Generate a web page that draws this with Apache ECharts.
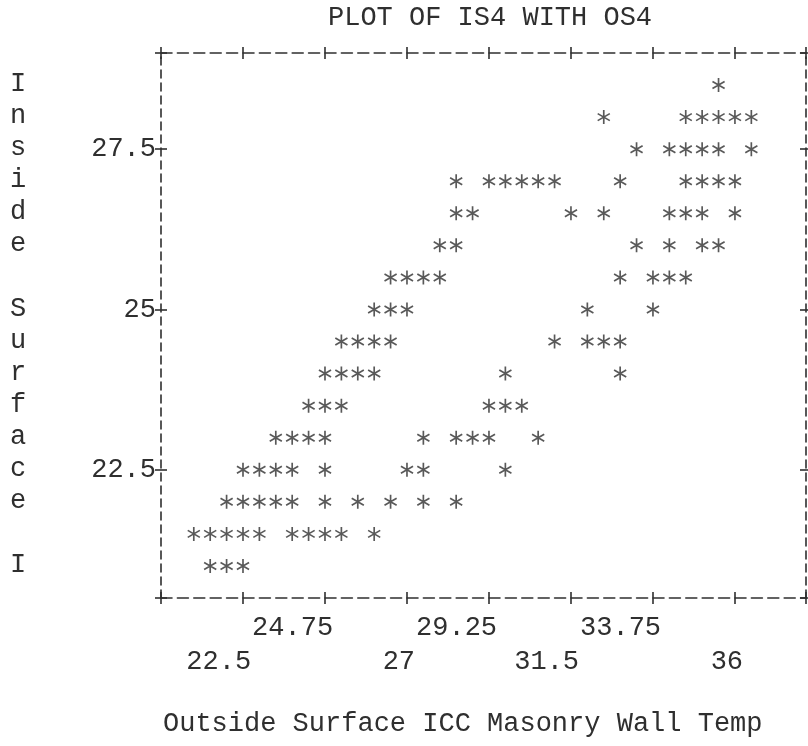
<!DOCTYPE html>
<html>
<head>
<meta charset="utf-8">
<script src="https://cdn.jsdelivr.net/npm/echarts@6/dist/echarts.min.js"></script>
<style>
html,body{margin:0;padding:0;background:#ffffff;}
#chart{width:808px;height:746px;}
</style>
</head>
<body>
<div id="chart"></div>
<script>
// ---------- texts ----------
const plotTitle = 'PLOT OF IS4 WITH OS4';
const xTitle = 'Outside Surface ICC Masonry Wall Temp';
const yTitle = 'Inside Surface I';

// ---------- axes ----------
const xRange = [20.25, 37.95];
const yRange = [20.5, 29];
const xLabelsUpper = [24.75, 29.25, 33.75];
const xLabelsLower = [22.5, 27, 31.5, 36];
const xTicks = [20.25, 22.5, 24.75, 27, 29.25, 31.5, 33.75, 36, 37.95];
const yLabels = [22.5, 25, 27.5];
const yTicks = [20.5, 22.5, 25, 27.5, 29];

// ---------- data: IS4 row value and OS4 values printed in that row ----------
const is4Rows = [28.5, 28, 27.5, 27, 26.5, 26, 25.5, 25, 24.5, 24, 23.5, 23, 22.5, 22, 21.5, 21];
const os4_285 = [35.55];
const os4_280 = [32.4, 34.65, 35.1, 35.55, 36.0, 36.45];
const os4_275 = [33.3, 34.2, 34.65, 35.1, 35.55, 36.45];
const os4_270 = [28.35, 29.25, 29.7, 30.15, 30.6, 31.05, 32.85, 34.65, 35.1, 35.55, 36.0];
const os4_265 = [28.35, 28.8, 31.5, 32.4, 34.2, 34.65, 35.1, 36.0];
const os4_260 = [27.9, 28.35, 33.3, 34.2, 35.1, 35.55];
const os4_255 = [26.55, 27.0, 27.45, 27.9, 32.85, 33.75, 34.2, 34.65];
const os4_250 = [26.1, 26.55, 27.0, 31.95, 33.75];
const os4_245 = [25.2, 25.65, 26.1, 26.55, 31.05, 31.95, 32.4, 32.85];
const os4_240 = [24.75, 25.2, 25.65, 26.1, 29.7, 32.85];
const os4_235 = [24.3, 24.75, 25.2, 29.25, 29.7, 30.15];
const os4_230 = [23.4, 23.85, 24.3, 24.75, 27.45, 28.35, 28.8, 29.25, 30.6];
const os4_225 = [22.5, 22.95, 23.4, 23.85, 24.75, 27.0, 27.45, 29.7];
const os4_220 = [22.05, 22.5, 22.95, 23.4, 23.85, 24.75, 25.65, 26.55, 27.45, 28.35];
const os4_215 = [21.15, 21.6, 22.05, 22.5, 22.95, 23.85, 24.3, 24.75, 25.2, 26.1];
const os4_210 = [21.6, 22.05, 22.5];
const os4Rows = [os4_285, os4_280, os4_275, os4_270, os4_265, os4_260, os4_255, os4_250,
                 os4_245, os4_240, os4_235, os4_230, os4_225, os4_220, os4_215, os4_210];

const points = [];
is4Rows.forEach((y, i) => os4Rows[i].forEach(x => points.push([x, y])));

// ---------- style ----------
const FONT = "'Liberation Mono', 'Courier New', monospace";
const INK = '#2f2f2f';
const FS = 27;
const ASTERISK = 'path://M44,0L56,0L56,100L44,100Z' +
  'M3.7,30.2L9.7,19.8L96.3,69.8L90.3,80.2Z' +
  'M9.7,80.2L3.7,69.8L90.3,19.8L96.3,30.2Z';

function padLabel(v) {
  const s = String(v);
  return s + ' '.repeat(s.length - 1);
}

function xAxisDef(position, withLine, inside, labels, margin) {
  return {
    type: 'value', position: position, min: xRange[0], max: xRange[1],
    axisLine: { show: withLine, onZero: false, lineStyle: { color: INK, width: 1.6, type: [11, 5.4] } },
    axisTick: { show: true, inside: inside, length: 6, customValues: xTicks, lineStyle: { color: INK, width: 1.6 } },
    axisLabel: labels ? {
      show: true, customValues: labels, margin: margin, formatter: padLabel,
      fontFamily: FONT, fontSize: FS, color: INK, lineHeight: 30
    } : { show: false },
    splitLine: { show: false }
  };
}
function yAxisDef(position, withLine, inside, labels) {
  return {
    type: 'value', position: position, min: yRange[0], max: yRange[1],
    axisLine: { show: withLine, onZero: false, lineStyle: { color: INK, width: 1.6, type: [8, 5] } },
    axisTick: { show: true, inside: inside, length: 6, customValues: yTicks, lineStyle: { color: INK, width: 1.6 } },
    axisLabel: labels ? {
      show: true, customValues: labels, margin: 5,
      fontFamily: FONT, fontSize: FS, color: INK
    } : { show: false },
    splitLine: { show: false }
  };
}

const chart = echarts.init(document.getElementById('chart'), null, { renderer: 'canvas' });
chart.setOption({
  backgroundColor: '#ffffff',
  animation: false,
  title: [
    { text: plotTitle, left: 328, top: 3, padding: 0,
      textStyle: { fontFamily: FONT, fontSize: FS, fontWeight: 'normal', color: INK, lineHeight: 30 } },
    { text: xTitle, left: 163, top: 709, padding: 0,
      textStyle: { fontFamily: FONT, fontSize: FS, fontWeight: 'normal', color: INK, lineHeight: 30 } },
    { text: yTitle.split('').join('\n'), left: 10, top: 68, padding: 0,
      textStyle: { fontFamily: FONT, fontSize: FS, fontWeight: 'normal', color: INK, lineHeight: 32.06 } }
  ],
  grid: { left: 161, right: 2, top: 53, bottom: 148, containLabel: false, outerBoundsMode: 'none' },
  xAxis: [
    xAxisDef('bottom', true, false, xLabelsUpper, 15),
    xAxisDef('bottom', false, true, xLabelsLower, 49),
    xAxisDef('top', true, false, null, 0),
    xAxisDef('top', false, true, null, 0)
  ],
  yAxis: [
    yAxisDef('left', true, false, yLabels),
    yAxisDef('left', false, true, null),
    yAxisDef('right', true, false, null),
    yAxisDef('right', false, true, null)
  ],
  series: [{
    type: 'scatter', xAxisIndex: 0, yAxisIndex: 0,
    data: points, symbol: ASTERISK, symbolSize: 14, symbolKeepAspect: true,
    itemStyle: { color: INK }, silent: true
  }]
});
</script>
</body>
</html>
